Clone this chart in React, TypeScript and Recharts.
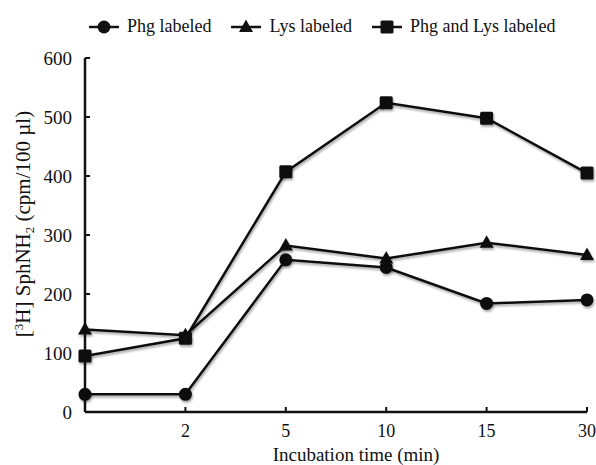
import { LineChart, Line, XAxis, YAxis, Legend } from "recharts";

const times = ["", "2", "5", "10", "15", "30"];
const phgLabeled = [30, 30, 258, 245, 184, 190];
const lysLabeled = [140, 130, 282, 260, 287, 266];
const bothLabeled = [95, 125, 407, 524, 498, 405];
const yTicks = [0, 100, 200, 300, 400, 500, 600];

const chartData = times.map((t, i) => ({
  time: t,
  phg: phgLabeled[i],
  lys: lysLabeled[i],
  both: bothLabeled[i],
}));

const FONT = "'Liberation Serif', 'Times New Roman', serif";
const INK = "#111";

type Shape = "circle" | "triangle" | "square";

function marker(shape: Shape, cx: number, cy: number, key?: string | number) {
  if (shape === "circle") return <circle key={key} cx={cx} cy={cy} r={6.5} fill={INK} />;
  if (shape === "square")
    return <rect key={key} x={cx - 6.5} y={cy - 6.5} width={13} height={13} rx={1.5} fill={INK} />;
  return (
    <polygon
      key={key}
      points={`${cx},${cy - 7.5} ${cx + 7},${cy + 5} ${cx - 7},${cy + 5}`}
      fill={INK}
    />
  );
}

const dotFor = (shape: Shape) => (props: any) => {
  const { cx, cy, index } = props;
  if (cx == null || cy == null) return <g key={index} />;
  return <g key={index} filter="url(#shade)">{marker(shape, cx, cy)}</g>;
};

const SERIES: { key: string; name: string; shape: Shape }[] = [
  { key: "phg", name: "Phg labeled", shape: "circle" },
  { key: "lys", name: "Lys labeled", shape: "triangle" },
  { key: "both", name: "Phg and Lys labeled", shape: "square" },
];

// keep the legend in series order (recharts sorts the payload otherwise)
const renderLegend = (props: any) => {
  const keys = new Set((props.payload || []).map((p: any) => p.dataKey));
  return (
    <div style={{ display: "flex", gap: 20, fontFamily: FONT, fontSize: 18, color: INK }}>
      {SERIES.filter((s) => keys.has(s.key)).map((s) => (
        <div key={s.key} style={{ display: "flex", alignItems: "center", gap: 8 }}>
          <svg width={30} height={16}>
            <line x1={0} y1={8} x2={30} y2={8} stroke={INK} strokeWidth={2.5} />
            {marker(s.shape, 15, 8)}
          </svg>
          <span>{s.name}</span>
        </div>
      ))}
    </div>
  );
};

export default function App() {
  return (
    <div style={{ width: 596, height: 465, overflow: "hidden", background: "#fff" }}>
      <style>{"body{margin:0} .recharts-line-curve{filter:url(#shade)}"}</style>
      <LineChart
        width={596}
        height={465}
        data={chartData}
        margin={{ top: 58, right: 9, bottom: 0, left: 0 }}
      >
        <defs>
          <filter id="shade" x="-20%" y="-20%" width="140%" height="160%">
            <feDropShadow dx="1" dy="2" stdDeviation="1.3" floodColor="#000" floodOpacity="0.35" />
          </filter>
        </defs>
        <XAxis
          dataKey="time"
          height={53}
          padding={{ left: 0, right: 0 }}
          axisLine={{ stroke: INK, strokeWidth: 2.5 }}
          tickLine={{ stroke: INK, strokeWidth: 2 }}
          tickSize={-5}
          tickMargin={17}
          interval={0}
          tick={{ fill: INK, fontSize: 18, fontFamily: FONT }}
          label={{
            content: () => (
              <text x={356} y={461} textAnchor="middle" fontFamily={FONT} fontSize={19} fill={INK}>
                Incubation time (min)
              </text>
            ),
          }}
        />
        <YAxis
          width={85}
          domain={[0, 600]}
          ticks={yTicks}
          interval={0}
          axisLine={{ stroke: INK, strokeWidth: 2.5 }}
          tickLine={{ stroke: INK, strokeWidth: 2 }}
          tickSize={-5}
          tickMargin={18}
          tick={{ fill: INK, fontSize: 19, fontFamily: FONT }}
          label={{
            content: () => (
              <text
                transform="translate(30,224) rotate(-90)"
                textAnchor="middle"
                fontFamily={FONT}
                fontSize={21}
                fill={INK}
              >
                [<tspan dy={-7} fontSize={13}>3</tspan>
                <tspan dy={7}>H] SphNH</tspan>
                <tspan dy={4} fontSize={13}>2</tspan>
                <tspan dy={-4}> (cpm/100 µl)</tspan>
              </text>
            ),
          }}
        />
        <Legend
          verticalAlign="middle"
          align="center"
          layout="horizontal"
          wrapperStyle={{ top: 16, left: 89, width: "auto" }}
          content={renderLegend}
        />
        {SERIES.map((s) => (
          <Line
            key={s.key}
            dataKey={s.key}
            name={s.name}
            type="linear"
            stroke={INK}
            strokeWidth={2.5}
            dot={dotFor(s.shape)}
            activeDot={false}
            isAnimationActive={false}
          />
        ))}
      </LineChart>
    </div>
  );
}
